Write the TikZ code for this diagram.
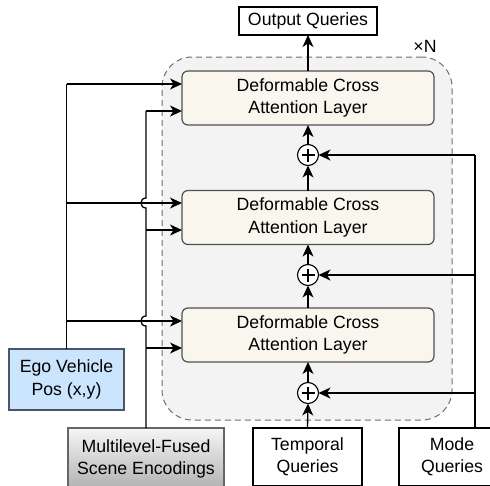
\documentclass[tikz,border=0pt]{standalone}
\usepackage{fontspec}
\setmainfont{Liberation Sans}
\usetikzlibrary{arrows.meta}
\definecolor{layerfill}{HTML}{F9F7ED}
\definecolor{layerdraw}{HTML}{505050}
\definecolor{contfill}{HTML}{F3F3F3}
\definecolor{contdraw}{HTML}{6E6E6E}
\definecolor{egofill}{HTML}{CCE5FF}
\definecolor{egodraw}{HTML}{4A5566}
\definecolor{scenedraw}{HTML}{666666}
\definecolor{scenetop}{HTML}{F6F6F6}
\definecolor{scenebot}{HTML}{B0B0B0}
\begin{document}
\begin{tikzpicture}[x=1pt,y=-1pt,
  font=\fontsize{17.7}{22.5}\selectfont,
  every node/.style={inner sep=0pt, outer sep=0pt, align=center},
  layerbox/.style={draw=layerdraw, fill=layerfill, rounded corners=6pt, line width=1.2pt, minimum width=252pt, minimum height=54pt},
  plainbox/.style={draw=black, fill=white, line width=1.1pt},
  sumnode/.style={circle, draw=black, fill=white, line width=1.1pt, minimum size=21pt,
    path picture={\draw[line width=1.1pt] ([xshift=-6.5pt]path picture bounding box.center) -- ([xshift=6.5pt]path picture bounding box.center) ([yshift=-6.5pt]path picture bounding box.center) -- ([yshift=6.5pt]path picture bounding box.center);}},
  conn/.style={line width=1.3pt, draw=black},
  arr/.style={conn, -{Stealth[length=12pt,width=11pt,inset=3.5pt]}},
  container/.style={draw=contdraw, fill=contfill, dash pattern=on 6pt off 4pt, line width=1pt, rounded corners=30pt, minimum width=290pt, minimum height=363pt},
]
\useasboundingbox (0,0) rectangle (490,485);
\clip (0,0) rectangle (490,485);

% container
\node[container] (cont) at (307,238.5) {};
\node (xn) at (425,46) {×N};

% boxes
\node[plainbox, minimum width=138pt, minimum height=28pt] (out) at (308,21) {Output Queries};
\node[layerbox] (L1) at (308,98) {Deformable Cross\\Attention Layer};
\node[layerbox] (L2) at (308,217.5) {Deformable Cross\\Attention Layer};
\node[layerbox] (L3) at (308,335) {Deformable Cross\\Attention Layer};
\node[sumnode] (S1) at (308,155) {};
\node[sumnode] (S2) at (308,275) {};
\node[sumnode] (S3) at (308,393) {};
\node[plainbox, minimum width=109pt, minimum height=58pt] (temp) at (307.5,457) {Temporal\\Queries};
\node[plainbox, minimum width=106pt, minimum height=58pt] (mode) at (452,457) {Mode\\Queries};
\node[draw=scenedraw, top color=scenetop, bottom color=scenebot, line width=1.1pt, minimum width=156pt, minimum height=62pt] (scene) at (146,459) {Multilevel-Fused\\Scene Encodings};
\node[draw=egodraw, fill=egofill, line width=1.1pt, minimum width=115pt, minimum height=61pt] (ego) at (66.5,379.5) {Ego Vehicle\\Pos (x,y)};

% main chain
\draw[arr] (temp.north) -- (S3.south);
\draw[arr] (S3.north) -- (L3.south);
\draw[arr] (L3.north) -- (S2.south);
\draw[arr] (S2.north) -- (L2.south);
\draw[arr] (L2.north) -- (S1.south);
\draw[arr] (S1.north) -- (L1.south);
\draw[arr] (L1.north) -- (out.south);

% mode queries
\coordinate (mtop) at (475,428);
\coordinate (m1) at (475,155);
\coordinate (m2) at (475,275);
\coordinate (m3) at (475,393);
\draw[conn] (mtop) -- (m1);
\draw[arr] (m1) -- (S1.east);
\draw[arr] (m2) -- (S2.east);
\draw[arr] (m3) -- (S3.east);

% ego vehicle
\coordinate (e1) at (66.5,84);
\coordinate (e2) at (66.5,203);
\coordinate (e3) at (66.5,321);
\draw[conn] (ego.north) -- (e1);
\draw[arr] (e1) -- (L1.west |- e1);
\draw[arr] (e2) -- (L2.west |- e2);
\draw[arr] (e3) -- (L3.west |- e3);

% scene encodings (with line jumps)
\coordinate (s1) at (146,111);
\coordinate (s2) at (146,230);
\coordinate (s3) at (146,348);
\draw[conn] (scene.north) -- (146,326) .. controls (139.3,326) and (139.3,316) .. (146,316)
  -- (146,208) .. controls (139.3,208) and (139.3,198) .. (146,198) -- (s1);
\draw[arr] (s1) -- (L1.west |- s1);
\draw[arr] (s2) -- (L2.west |- s2);
\draw[arr] (s3) -- (L3.west |- s3);
\end{tikzpicture}
\end{document}
